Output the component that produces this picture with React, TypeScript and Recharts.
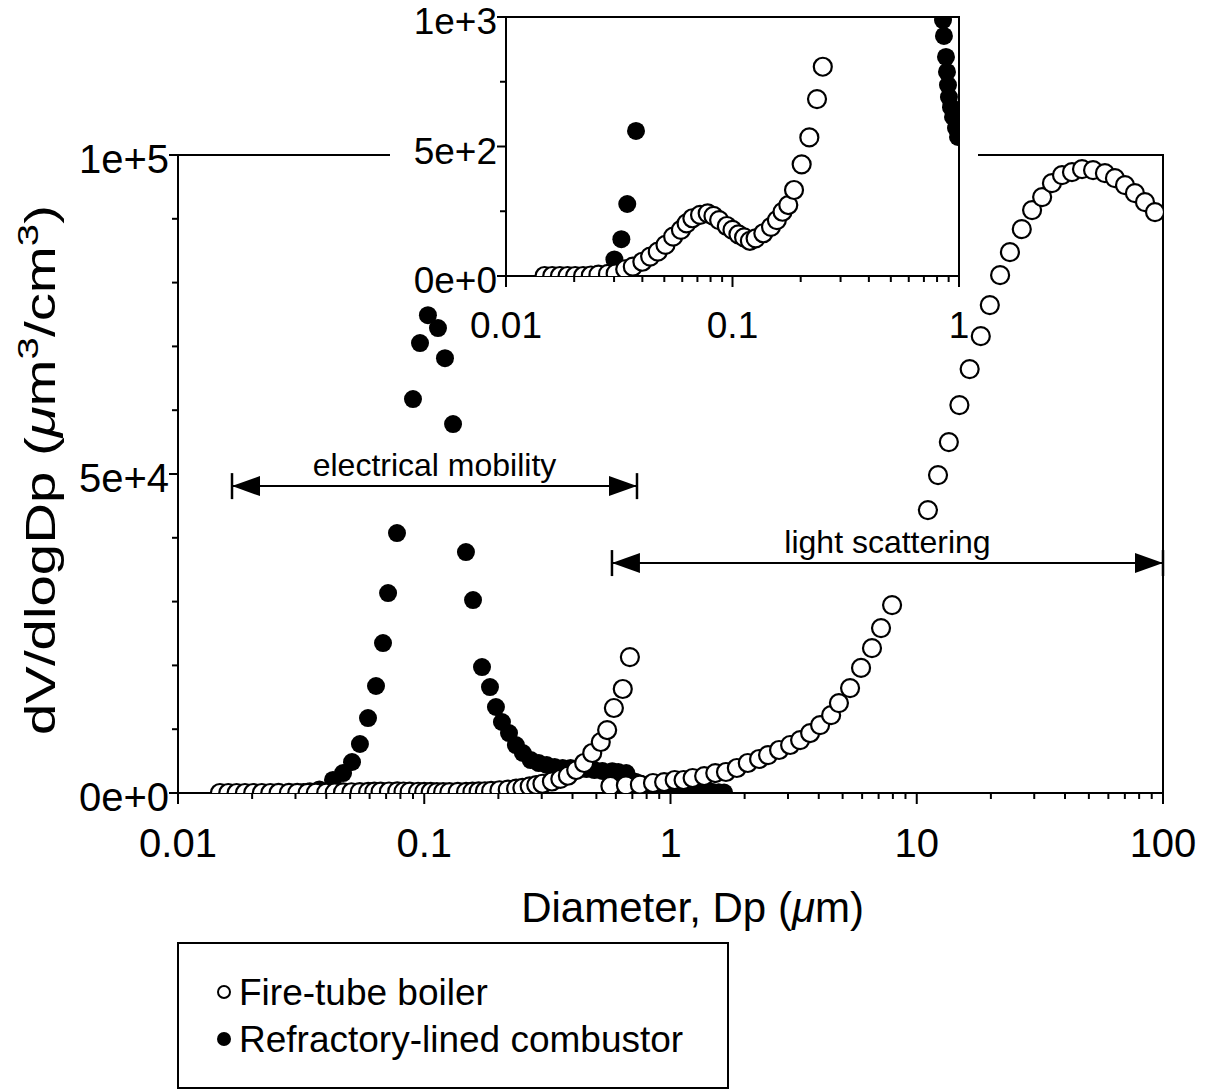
import React from "react";
import {
  ScatterChart,
  Scatter,
  XAxis,
  YAxis,
  ReferenceArea,
  ReferenceLine,
  Label,
  Legend,
} from "recharts";

const FONT = "'Liberation Sans', Arial, Helvetica, sans-serif";

// Fire-tube boiler, electrical mobility range
const FT_EM_DP = [
  0.0148, 0.016, 0.0173, 0.0187, 0.0202, 0.0219, 0.0237, 0.0256, 0.0282, 0.0305, 0.0336, 0.0363,
  0.04, 0.0433, 0.0468, 0.0506, 0.0547, 0.0592, 0.0627, 0.0665, 0.0719, 0.0777, 0.0824, 0.0873,
  0.0944, 0.1, 0.1062, 0.1125, 0.1193, 0.1265, 0.1368, 0.1479, 0.157, 0.1663, 0.1763, 0.1869,
  0.202, 0.2184, 0.2361, 0.2504, 0.268, 0.285, 0.302, 0.33, 0.357, 0.383, 0.414, 0.446, 0.481,
  0.521, 0.553, 0.589, 0.64, 0.684,
];
const FT_EM_DV = [
  0, 0, 0, 0, 0, 0, 2, 5, 8, 10, 26, 36, 55, 75, 94, 120, 152, 178, 203, 223, 236, 242, 232, 216,
  193, 178, 161, 149, 136, 145, 165, 190, 216, 248, 274, 332, 431, 535, 683, 808, 1050, 1250,
  1450, 1800, 2200, 2700, 3600, 4700, 6270, 7990, 9870, 13320, 16300, 21310,
];

// Fire-tube boiler, light scattering range
const FT_LS_DP = [
  0.57, 0.659, 0.751, 0.849, 0.942, 1.04, 1.13, 1.23, 1.37, 1.52, 1.68, 1.86, 2.06, 2.29, 2.49,
  2.76, 3.06, 3.36, 3.69, 4.05, 4.49, 4.83, 5.36, 5.94, 6.58, 7.16, 7.94, 11.1, 12.2, 13.5, 14.9,
  16.4, 18.2, 19.8, 21.8, 23.9, 26.7, 29.4, 32.3, 35.4, 38.9, 42.7, 46.9, 52.0, 58.1, 63.8, 70.1,
  76.9, 84.5, 92.8,
];
const FT_LS_DV = [
  1100, 1200, 1300, 1570, 1720, 2040, 2040, 2350, 2660, 3130, 3290, 3920, 4700, 5330, 5950, 6740,
  7520, 8300, 9400, 10650, 12200, 14100, 16450, 19600, 22700, 25850, 29450, 44350, 49830, 55000,
  60800, 66440, 71600, 76470, 81170, 84780, 88380, 91360, 93400, 95590, 96840, 97310, 97780,
  97620, 97150, 96370, 95270, 94020, 92610, 91050,
];

// Refractory-lined combustor, electrical mobility range
const RL_EM_DP = [
  0.0301, 0.0323, 0.0343, 0.0375, 0.0426, 0.0468, 0.0509, 0.0548, 0.0591, 0.0637, 0.068, 0.0713,
  0.0775, 0.09, 0.0961, 0.1035, 0.1137, 0.1214, 0.1309, 0.1477, 0.1578, 0.1716, 0.1849, 0.1955,
  0.2068, 0.2209, 0.2356, 0.2514, 0.2707, 0.2917, 0.3142, 0.3385, 0.3646, 0.3927, 0.4231, 0.4558,
  0.491, 0.5289, 0.5698, 0.6138, 0.6612,
];
const RL_EM_DV = [
  64, 142, 278, 560, 2040, 3130, 4860, 7680, 11750, 16770, 23500, 31340, 40740, 61740, 70520,
  74900, 72870, 68160, 57820, 37760, 30240, 19740, 16610, 13480, 11130, 9400, 7520, 6270, 5170,
  4700, 4390, 4070, 3920, 3920, 3760, 3760, 3600, 3450, 3290, 3290, 3130,
];

// Refractory-lined combustor, light scattering range
const RL_LS_DP = [
  0.58, 0.6, 0.62, 0.64, 0.66, 0.69, 0.72, 0.75, 0.78, 0.81, 0.85, 0.858, 0.876, 0.885, 0.894,
  0.903, 0.922, 0.941, 0.97, 0.99, 1.05, 1.12, 1.2, 1.28, 1.37, 1.47, 1.57, 1.65,
];
const RL_LS_DV = [
  3400, 3200, 2900, 2600, 2300, 2000, 1750, 1500, 1300, 1150, 988, 927, 846, 788, 737, 691, 652,
  614, 571, 537, 480, 420, 360, 300, 240, 180, 120, 80,
];

const SERIES_NAMES = ["Fire-tube boiler", "Refractory-lined combustor"];

const MAIN_DECADES = [0.01, 0.1, 1, 10, 100];
const INSET_DECADES = [0.01, 0.1, 1];
const MAIN_Y_TICKS = [0, 10000, 20000, 30000, 40000, 50000, 60000, 70000, 80000, 90000, 100000];
const INSET_Y_TICKS = [0, 250, 500, 750, 1000];

const pts = (dp: number[], dv: number[]) => dp.map((x, i) => ({ x, y: dv[i] }));
const inInset = (p: { x: number; y: number }) => p.x <= 1 && p.y <= 1000;

// decades plus the 2..9 minor ticks between them
function logTicks(decades: number[]) {
  const out: number[] = [];
  decades.forEach((d, i) => {
    out.push(d);
    if (i < decades.length - 1) {
      for (let m = 2; m <= 9; m++) out.push(+(d * m).toPrecision(3));
    }
  });
  return out;
}

const isDecade = (v: number) => Math.abs(Math.log10(v) - Math.round(Math.log10(v))) < 1e-6;

function XTick(props: any) {
  const { x, y, payload, fontSize, labelDy } = props;
  const v = payload.value;
  const major = isDecade(v);
  return (
    <g>
      <line x1={x} y1={y} x2={x} y2={y + (major ? 11 : 6)} stroke="#000" strokeWidth={2} />
      {major && (
        <text x={x} y={y + labelDy} textAnchor="middle" fontSize={fontSize} fontFamily={FONT} fill="#000">
          {String(v)}
        </text>
      )}
    </g>
  );
}

function YTick(props: any) {
  const { x, y, payload, fontSize, majorStep } = props;
  const v = payload.value;
  const major = v % majorStep === 0;
  return (
    <g>
      <line x1={x} y1={y} x2={x - (major ? 9 : 6)} y2={y} stroke="#000" strokeWidth={2} />
      {major && (
        <text x={x - 9} y={y + fontSize * 0.36 + 4} textAnchor="end" fontSize={fontSize} fontFamily={FONT} fill="#000">
          {v.toExponential(0)}
        </text>
      )}
    </g>
  );
}

const OpenDot = (p: any) => <circle cx={p.cx} cy={p.cy} r={9} fill="#fff" stroke="#000" strokeWidth={2.2} />;
const FilledDot = (p: any) => <circle cx={p.cx} cy={p.cy} r={9} fill="#000" />;

function RangeArrow(props: any) {
  const { x1, y1, x2, text } = props;
  const y = y1;
  const ah = 28;
  const hw = 10;
  const bar = 13;
  return (
    <g>
      <line x1={x1} y1={y} x2={x2} y2={y} stroke="#000" strokeWidth={2} />
      <line x1={x1} y1={y - bar} x2={x1} y2={y + bar} stroke="#000" strokeWidth={2.5} />
      <line x1={x2} y1={y - bar} x2={x2} y2={y + bar} stroke="#000" strokeWidth={2.5} />
      <polygon points={`${x1},${y} ${x1 + ah},${y - hw} ${x1 + ah},${y + hw}`} fill="#000" />
      <polygon points={`${x2},${y} ${x2 - ah},${y - hw} ${x2 - ah},${y + hw}`} fill="#000" />
      <text x={(x1 + x2) / 2} y={y - 10} textAnchor="middle" fontSize={32} fontFamily={FONT} fill="#000">
        {text}
      </text>
    </g>
  );
}

function LegendBox() {
  return (
    <svg width={552} height={147} style={{ display: "block" }}>
      <rect x={1} y={1} width={550} height={145} fill="#fff" stroke="#000" strokeWidth={2} />
      <circle cx={47} cy={50} r={6} fill="#fff" stroke="#000" strokeWidth={2} />
      <text x={62} y={63} fontSize={37} fontFamily={FONT} fill="#000">{SERIES_NAMES[0]}</text>
      <circle cx={47} cy={97} r={7} fill="#000" />
      <text x={62} y={110} fontSize={37} fontFamily={FONT} fill="#000">{SERIES_NAMES[1]}</text>
    </svg>
  );
}

export default function App() {
  const ftEm = pts(FT_EM_DP, FT_EM_DV);
  const ftLs = pts(FT_LS_DP, FT_LS_DV);
  const rlEm = pts(RL_EM_DP, RL_EM_DV);
  const rlLs = pts(RL_LS_DP, RL_LS_DV);

  return (
    <div style={{ position: "absolute", left: 0, top: 0, width: 1212, height: 1091, background: "#fff" }}>
      {/* main chart */}
      <div style={{ position: "absolute", left: 0, top: 0 }}>
        <ScatterChart width={1212} height={1091} margin={{ top: 155, right: 49, bottom: 238, left: 78 }}>
          <XAxis
            type="number"
            dataKey="x"
            scale="log"
            domain={[0.01, 100]}
            allowDataOverflow
            ticks={logTicks(MAIN_DECADES)}
            interval={0}
            tickSize={0}
            tickMargin={0}
            tickLine={false}
            tick={(p: any) => <XTick {...p} fontSize={40} labelDy={64} />}
            axisLine={{ stroke: "#000", strokeWidth: 2 }}
            height={60}
          >
            <Label
              content={(props: any) => {
                const vb = props.viewBox ?? { x: 178, y: 793, width: 985 };
                return (
                  <text x={vb.x + vb.width / 2 + 22} y={vb.y + 129} textAnchor="middle" fontSize={42} fontFamily={FONT} fill="#000">
                    Diameter, Dp (<tspan fontStyle="italic">μ</tspan>m)
                  </text>
                );
              }}
            />
          </XAxis>
          <YAxis
            type="number"
            dataKey="y"
            domain={[0, 100000]}
            allowDataOverflow
            ticks={MAIN_Y_TICKS}
            interval={0}
            tickSize={0}
            tickMargin={0}
            tickLine={false}
            tick={(p: any) => <YTick {...p} fontSize={40} majorStep={50000} />}
            axisLine={{ stroke: "#000", strokeWidth: 2 }}
            width={100}
          >
            <Label
              content={(props: any) => {
                const vb = props.viewBox ?? { x: 78, y: 155, height: 638 };
                const cx = vb.x - 38;
                const cy = vb.y + vb.height / 2 - 4;
                return (
                  <text
                    x={cx}
                    y={cy}
                    transform={`rotate(-90, ${cx}, ${cy})`}
                    textAnchor="middle"
                    dominantBaseline="central"
                    fontSize={42}
                    fontFamily={FONT}
                    fill="#000"
                    textLength={530}
                    lengthAdjust="spacingAndGlyphs"
                  >
                    dV/dlogDp (<tspan fontStyle="italic">μ</tspan>m
                    <tspan fontSize={30} dy={-13}>3</tspan>
                    <tspan dy={13}>/cm</tspan>
                    <tspan fontSize={30} dy={-13}>3</tspan>
                    <tspan dy={13}>)</tspan>
                  </text>
                );
              }}
            />
          </YAxis>
          <ReferenceArea x1={0.01} x2={100} y1={0} y2={100000} fill="none" stroke="#000" strokeWidth={2} ifOverflow="visible" />
          <ReferenceLine
            segment={[{ x: 0.01657, y: 48100 }, { x: 0.731, y: 48100 }]}
            ifOverflow="visible"
            shape={(p: any) => <RangeArrow {...p} text="electrical mobility" />}
          />
          <ReferenceLine
            segment={[{ x: 0.5785, y: 36040 }, { x: 100, y: 36040 }]}
            ifOverflow="visible"
            shape={(p: any) => <RangeArrow {...p} text="light scattering" />}
          />
          <Scatter name={SERIES_NAMES[1]} data={rlEm} shape={FilledDot} isAnimationActive={false} />
          <Scatter name={SERIES_NAMES[1]} data={rlLs} shape={FilledDot} isAnimationActive={false} />
          <Scatter name={SERIES_NAMES[0]} data={ftEm} shape={OpenDot} isAnimationActive={false} />
          <Scatter name={SERIES_NAMES[0]} data={ftLs} shape={OpenDot} isAnimationActive={false} />
          <Legend
            layout="vertical"
            align="center"
            verticalAlign="middle"
            content={() => <LegendBox />}
            wrapperStyle={{ left: 177, top: 942, width: 552, height: 147 }}
          />
        </ScatterChart>
      </div>

      {/* white patch behind the inset */}
      <div style={{ position: "absolute", left: 390, top: 0, width: 588, height: 300, background: "#fff" }} />

      {/* inset */}
      <div style={{ position: "absolute", left: 390, top: 0 }}>
        <ScatterChart width={600} height={345} margin={{ top: 17, right: 31, bottom: 9, left: 36 }}>
          <XAxis
            type="number"
            dataKey="x"
            scale="log"
            domain={[0.01, 1]}
            allowDataOverflow
            ticks={logTicks(INSET_DECADES)}
            interval={0}
            tickSize={0}
            tickMargin={0}
            tickLine={false}
            tick={(p: any) => <XTick {...p} fontSize={37} labelDy={62} />}
            axisLine={{ stroke: "#000", strokeWidth: 2 }}
            height={60}
          />
          <YAxis
            type="number"
            dataKey="y"
            domain={[0, 1000]}
            allowDataOverflow
            ticks={INSET_Y_TICKS}
            interval={0}
            tickSize={0}
            tickMargin={0}
            tickLine={false}
            tick={(p: any) => <YTick {...p} fontSize={37} majorStep={500} />}
            axisLine={{ stroke: "#000", strokeWidth: 2 }}
            width={80}
          />
          <ReferenceArea x1={0.01} x2={1} y1={0} y2={1000} fill="none" stroke="#000" strokeWidth={2} ifOverflow="visible" />
          <Scatter data={rlEm.filter(inInset)} shape={FilledDot} isAnimationActive={false} />
          <Scatter data={rlLs.filter(inInset)} shape={FilledDot} isAnimationActive={false} />
          <Scatter data={ftEm.filter(inInset)} shape={OpenDot} isAnimationActive={false} />
          <Scatter data={ftLs.filter(inInset)} shape={OpenDot} isAnimationActive={false} />
        </ScatterChart>
      </div>
    </div>
  );
}
